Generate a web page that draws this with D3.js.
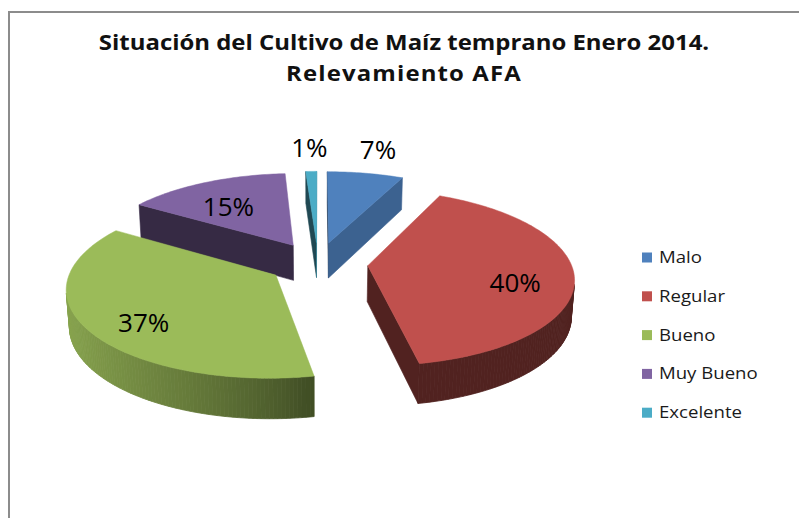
<!DOCTYPE html>
<html>
<head>
<meta charset="utf-8">
<script src="https://cdn.jsdelivr.net/npm/d3@7"></script>
<style>
  body { margin: 0; background: #fff; }
  svg { display: block; }
</style>
</head>
<body>
<svg width="799" height="518"></svg>
<script>
// chart data
var categories = ["Malo", "Regular", "Bueno", "Muy Bueno", "Excelente"];
var values = [7, 40, 37, 15, 1];
var colors = ["#4f81bd", "#c0504d", "#9bbb59", "#8064a2", "#4bacc6"];
var titleLines = ["Situación del Cultivo de Maíz temprano Enero 2014.", "Relevamiento AFA"];

var svg = d3.select("svg"),
    width = +svg.attr("width"),
    height = +svg.attr("height");

// outer frame (cut by the window on the right and bottom)
svg.append("rect")
    .attr("x", 9).attr("y", 12)
    .attr("width", 900).attr("height", 600)
    .attr("fill", "none")
    .attr("stroke", "#8c8c8c")
    .attr("stroke-width", 2);

// title, a bit stretched sideways like the original
svg.append("g")
    .attr("transform", "translate(404,0) scale(1.14,1)")
  .selectAll("text")
  .data(titleLines)
  .enter().append("text")
    .attr("x", 0)
    .attr("y", function(d, i) { return 50 + i * 31; })
    .attr("text-anchor", "middle")
    .attr("font-family", "'Open Sans', sans-serif")
    .attr("font-weight", "bold")
    .attr("font-size", 21)
    .attr("letter-spacing", function(d, i) { return i ? 1 : 0; })
    .attr("fill", "#111")
    .text(function(d) { return d; });

// 3d pie setup: pie plane (u right, v away), z up, camera tilted by phi
var cx = 318, cy = 263,
    R = 203, h = 40, explode = 50,
    phi = 25 * Math.PI / 180,
    D = 1375,
    sinP = Math.sin(phi), cosP = Math.cos(phi),
    cam = [0, -D * cosP, D * sinP];

function proj(u, v, z) {
  var k = D / (D + v * cosP - z * sinP);
  return [cx + u * k, cy - (v * sinP + z * cosP) * k];
}

function visible(n, p) {
  return n[0] * (cam[0] - p[0]) + n[1] * (cam[1] - p[1]) + n[2] * (cam[2] - p[2]) > 0;
}

function poly(pts) {
  return "M" + pts.map(function(p) { return p[0].toFixed(2) + "," + p[1].toFixed(2); }).join("L") + "Z";
}

function shade(c, f) {
  var col = d3.rgb(c);
  return d3.rgb(col.r * f, col.g * f, col.b * f).formatHex();
}

var pie = d3.pie().sort(null).value(function(d) { return d; });
var arcs = pie(values).map(function(a, i) {
  var mid = (a.startAngle + a.endAngle) / 2;
  a.name = categories[i];
  a.color = colors[i];
  a.mid = mid;
  a.ou = explode * Math.sin(mid);
  a.ov = explode * Math.cos(mid);
  return a;
});

// back slices first
var order = arcs.slice().sort(function(a, b) { return b.ov - a.ov; });

var gPie = svg.append("g");

order.forEach(function(a) {
  var g = gPie.append("g");
  function pt(ang, r, z) { return [a.ou + r * Math.sin(ang), a.ov + r * Math.cos(ang), z]; }
  function sp(p) { return proj(p[0], p[1], p[2]); }

  // radial cut faces
  [[a.startAngle, -1], [a.endAngle, 1]].forEach(function(e) {
    var ang = e[0], s = e[1];
    var n = [s * Math.cos(ang), -s * Math.sin(ang), 0];
    var mp = pt(ang, R / 2, -h / 2);
    if (!visible(n, mp)) return;
    var f = n[0] > 0 ? 0.76 : 0.42;
    var fill = shade(a.color, f);
    g.append("path")
      .attr("d", poly([sp(pt(ang, 0, 0)), sp(pt(ang, R, 0)), sp(pt(ang, R, -h)), sp(pt(ang, 0, -h))]))
      .attr("fill", fill).attr("stroke", fill).attr("stroke-width", 0.6);
  });

  // curved outer side, in small steps
  var steps = Math.max(2, Math.ceil((a.endAngle - a.startAngle) / (Math.PI / 180)));
  var da = (a.endAngle - a.startAngle) / steps;
  for (var i = 0; i < steps; i++) {
    var a0 = a.startAngle + i * da, a1 = a0 + da, am = a0 + da / 2;
    var n = [Math.sin(am), Math.cos(am), 0];
    if (!visible(n, pt(am, R, -h / 2))) continue;
    var t = Math.max(0, Math.min(1, (-n[0] + 0.15) / 1.15));
    var fill = shade(a.color, 0.42 + 0.46 * Math.pow(t, 0.8));
    g.append("path")
      .attr("d", poly([sp(pt(a0, R, 0)), sp(pt(a1, R, 0)), sp(pt(a1, R, -h)), sp(pt(a0, R, -h))]))
      .attr("fill", fill).attr("stroke", fill).attr("stroke-width", 0.8);
  }

  // top face
  var top = [sp(pt(a.startAngle, 0, 0))];
  for (var j = 0; j <= steps; j++) {
    top.push(sp(pt(a.startAngle + j * da, R, 0)));
  }
  g.append("path")
    .attr("d", poly(top))
    .attr("fill", a.color)
    .attr("stroke", a.color)
    .attr("stroke-width", 0.5);
});

// percentage labels: inside for big slices, outside for small ones
svg.append("g").selectAll("text")
  .data(arcs)
  .enter().append("text")
    .attr("transform", function(a) {
      var inside = a.value >= 10;
      var r = inside ? 0.72 * R : 1.4 * R;
      var z = inside ? -h / 4 : 0;
      var p = proj(a.ou + r * Math.sin(a.mid), a.ov + r * Math.cos(a.mid), z);
      return "translate(" + p[0] + "," + p[1] + ")";
    })
    .attr("text-anchor", "middle")
    .attr("dy", "0.36em")
    .attr("font-family", "'Open Sans', sans-serif")
    .attr("font-size", 26)
    .attr("fill", "#000")
    .text(function(a) { return a.value + "%"; });

// legend
var ly = d3.scalePoint().domain(categories).range([257.5, 412.7]);
var legend = svg.append("g").selectAll("g")
  .data(categories)
  .enter().append("g")
    .attr("transform", function(d) { return "translate(642," + ly(d) + ")"; });

legend.append("rect")
    .attr("x", 0).attr("y", -5)
    .attr("width", 10).attr("height", 10)
    .attr("fill", function(d, i) { return colors[i]; });

legend.append("text")
    .attr("transform", "translate(17,0) scale(1.2,1)")
    .attr("dy", "0.36em")
    .attr("font-family", "'Open Sans', sans-serif")
    .attr("font-size", 15.5)
    .attr("fill", "#1a1a1a")
    .text(function(d) { return d; });
</script>
</body>
</html>
